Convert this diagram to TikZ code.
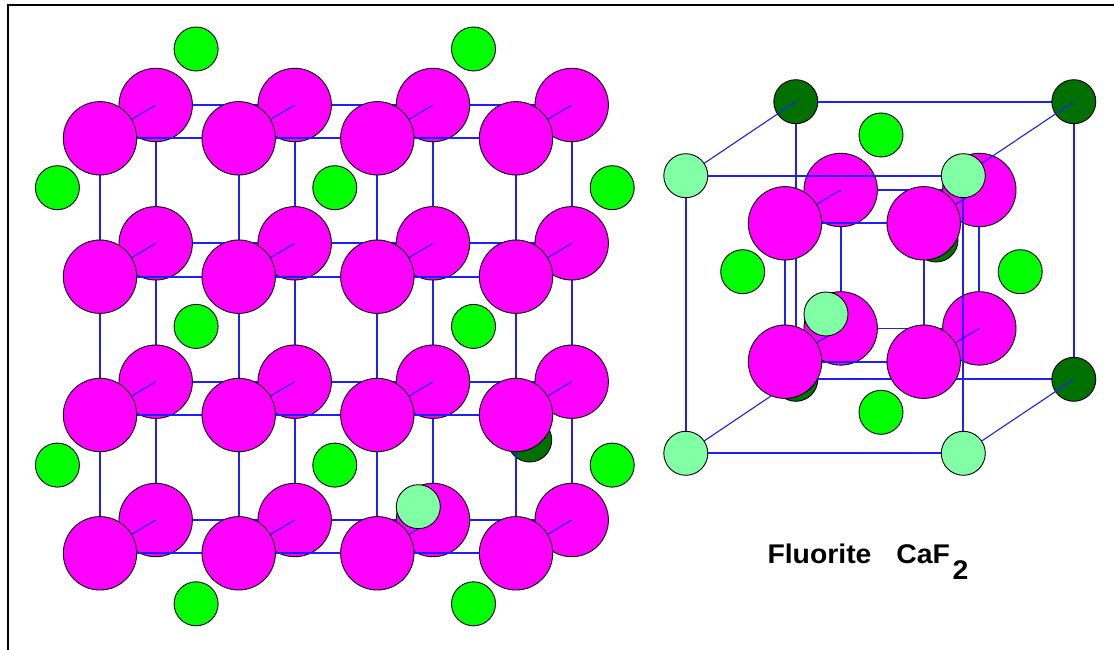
\documentclass[tikz,border=0pt]{standalone}
\usepackage{fontspec}
\newfontfamily\labelfont[FakeStretch=1.05]{Liberation Sans}
\definecolor{fmag}{RGB}{255,0,255}
\definecolor{camid}{RGB}{0,255,0}
\definecolor{canear}{RGB}{128,255,165}
\definecolor{cafar}{RGB}{0,112,0}
\definecolor{bondblue}{RGB}{30,30,255}
\begin{document}
\begin{tikzpicture}[x=1pt,y=-1pt,
  bond/.style={color=bondblue,line width=1.7pt},
  depthbond/.style={color=bondblue,line width=1.1pt},
  atom/.style={circle,draw=black,line width=0.9pt,inner sep=0pt,outer sep=0pt},
  fion/.style={atom,fill=fmag,minimum size=73.4pt},
  camidion/.style={atom,fill=camid,minimum size=44pt},
  canearion/.style={atom,fill=canear,minimum size=44pt},
  cafarion/.style={atom,fill=cafar,minimum size=44pt},
  framestyle/.style={color=black,line width=2pt}]
\useasboundingbox (0,0) rectangle (1114,650);
\fill[white] (0,0) rectangle (1114,650);

% frame
\coordinate (frame-bl) at (7.7,650);
\coordinate (frame-tl) at (7.7,5);
\coordinate (frame-tr) at (1114,5);
\draw[framestyle] (frame-bl) -- (frame-tl) -- (frame-tr);

% ---------- extended lattice (left) ----------
% column / row positions of the front and back F layers
\foreach \i/\lfx/\lbx in {0/100/155.7,1/238.7/294.7,2/377.3/433.0,3/516/571.7}{
  \foreach \j/\lfy/\lby in {0/138.3/105,1/276.7/243.3,2/415/381.7,3/553.3/520}{
    \coordinate (lf-\i-\j) at (\lfx,\lfy);
    \coordinate (lb-\i-\j) at (\lbx,\lby);
  }
}
% far Ca layer (z = 1)
\node[cafarion] (lfar) at (529.7,440) {};
% back F layer: bonds, then ions
\foreach \i in {0,...,3}{
  \foreach \j [evaluate=\j as \jn using int(\j+1)] in {0,1,2}{
    \draw[bond] (lb-\i-\j) -- (lb-\i-\jn);
    \draw[bond] (lb-\j-\i) -- (lb-\jn-\i);
  }
}
\foreach \i in {0,...,3}{
  \foreach \j in {0,...,3}{
    \node[fion] (lbion-\i-\j) at (lb-\i-\j) {};
  }
}
% bonds between the two F layers
\foreach \i in {0,...,3}{
  \foreach \j in {0,...,3}{
    \draw[depthbond] (lb-\i-\j) -- (lf-\i-\j);
  }
}
% middle Ca layer (z = 1/2)
\foreach \gx/\gy in {1/0,3/0,0/1,2/1,4/1,1/2,3/2,0/3,2/3,4/3,1/4,3/4}{
  \node[camidion] (lmid-\gx-\gy) at ({57.4+138.7*\gx},{49+138.7*\gy}) {};
}
% front F layer: bonds, then ions
\foreach \i in {0,...,3}{
  \foreach \j [evaluate=\j as \jn using int(\j+1)] in {0,1,2}{
    \draw[bond] (lf-\i-\j) -- (lf-\i-\jn);
    \draw[bond] (lf-\j-\i) -- (lf-\jn-\i);
  }
}
\foreach \i in {0,...,3}{
  \foreach \j in {0,...,3}{
    \node[fion] (lfion-\i-\j) at (lf-\i-\j) {};
  }
}
% near Ca (z = 0)
\node[canearion] (lnear) at (418.3,506.7) {};

% ---------- unit cell (right) ----------
\foreach \sx/\cfx/\cbx/\qfx/\qbx in {0/685.8/795.8/785/840.7,1/963.3/1073.8/923.7/979.3}{
  \foreach \sy/\cfy/\cby/\qfy/\qby in {0/175.7/101.7/223.3/190,1/453.3/379.3/361.7/328.4}{
    \coordinate (of-\sx-\sy) at (\cfx,\cfy);
    \coordinate (ob-\sx-\sy) at (\cbx,\cby);
    \coordinate (if-\sx-\sy) at (\qfx,\qfy);
    \coordinate (ib-\sx-\sy) at (\qbx,\qby);
  }
}
% back face of the cell
\draw[bond] (ob-0-0) -- (ob-1-0) -- (ob-1-1) -- (ob-0-1) -- cycle;
\foreach \sx in {0,1}{
  \foreach \sy in {0,1}{
    \node[cafarion] (obion-\sx-\sy) at (ob-\sx-\sy) {};
  }
}
\node[cafarion] (face-back) at (936,240) {};
% back face of the inner F cube
\draw[bond] (ib-0-0) -- (ib-1-0) -- (ib-1-1) -- (ib-0-1) -- cycle;
\foreach \sx in {0,1}{
  \foreach \sy in {0,1}{
    \node[fion] (ibion-\sx-\sy) at (ib-\sx-\sy) {};
  }
}
% receding edges
\foreach \sx in {0,1}{
  \foreach \sy in {0,1}{
    \draw[depthbond] (of-\sx-\sy) -- (ob-\sx-\sy);
    \draw[depthbond] (if-\sx-\sy) -- (ib-\sx-\sy);
  }
}
% face-centred Ca at mid depth
\node[camidion] (face-top) at (881,135) {};
\node[camidion] (face-bottom) at (881,412.3) {};
\node[camidion] (face-left) at (742.7,271.7) {};
\node[camidion] (face-right) at (1020.2,271.7) {};
% front face of the inner F cube
\draw[bond] (if-0-0) -- (if-1-0) -- (if-1-1) -- (if-0-1) -- cycle;
\foreach \sx in {0,1}{
  \foreach \sy in {0,1}{
    \node[fion] (ifion-\sx-\sy) at (if-\sx-\sy) {};
  }
}
% front face of the cell
\draw[bond] (of-0-0) -- (of-1-0) -- (of-1-1) -- (of-0-1) -- cycle;
\foreach \sx in {0,1}{
  \foreach \sy in {0,1}{
    \node[canearion] (ofion-\sx-\sy) at (of-\sx-\sy) {};
  }
}
\node[canearion] (face-front) at (826,314) {};

% caption
\node[anchor=base west,inner sep=0pt,font=\labelfont\bfseries\fontsize{27}{30}\selectfont] (caption) at (767.3,563.3) {Fluorite\hspace{25pt}CaF\kern2.5pt\raisebox{-16pt}{2}};
\end{tikzpicture}
\end{document}
